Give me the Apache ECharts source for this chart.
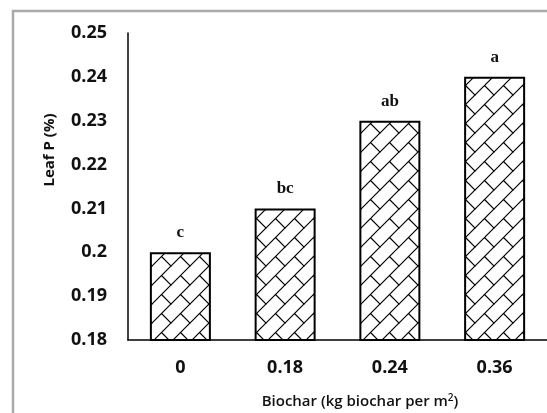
<!DOCTYPE html>
<html><head><meta charset="utf-8">
<script src="https://cdn.jsdelivr.net/npm/echarts@6/dist/echarts.min.js"></script>
<style>html,body{margin:0;padding:0;background:#fff}#c{width:547px;height:413px}</style>
</head><body><div id="c"></div>
<script>
var categories = ['0', '0.18', '0.24', '0.36'];
var leafP = [0.20, 0.21, 0.23, 0.24];
var letters = ['c', 'bc', 'ab', 'a'];
var yTicks = [0.18, 0.19, 0.2, 0.21, 0.22, 0.23, 0.24, 0.25];

function makePattern() {
  var s = 19;
  var cv = document.createElement('canvas');
  cv.width = s; cv.height = s;
  var g = cv.getContext('2d');
  g.fillStyle = '#fff'; g.fillRect(0, 0, s, s);
  g.strokeStyle = '#000'; g.lineWidth = 1.2;
  g.beginPath();
  g.moveTo(-2, s + 2); g.lineTo(s + 2, -2);
  g.moveTo(s / 2, s / 2); g.lineTo(s + 1, s + 1);
  g.moveTo(-1, -1); g.lineTo(0.5, 0.5);
  g.stroke();
  return cv;
}

var chart = echarts.init(document.getElementById('c'), null, {renderer: 'canvas'});
var pat = {image: makePattern(), repeat: 'repeat'};
chart.setOption({
  backgroundColor: '#fff',
  animation: false,
  grid: {left: 128, right: -2, top: 33, bottom: 73},
  xAxis: {
    type: 'category', data: categories,
    axisLine: {lineStyle: {color: '#000', width: 1.5}},
    axisTick: {show: false},
    axisLabel: {margin: 19, fontFamily: 'Open Sans', fontWeight: 'bold', fontSize: 18, color: '#111'}
  },
  yAxis: {
    type: 'value', min: 0.18, max: 0.25, interval: 0.01,
    axisLine: {show: true, lineStyle: {color: '#000', width: 1.5}},
    axisTick: {show: false},
    splitLine: {show: false},
    axisLabel: {margin: 21, fontFamily: 'Open Sans', fontWeight: 'bold', fontSize: 18, color: '#111',
      formatter: function (v) {
        var t = yTicks.reduce(function (a, b) { return Math.abs(b - v) < Math.abs(a - v) ? b : a; });
        return String(t);
      }}
  },
  series: [{
    type: 'bar', data: leafP, barWidth: 61,
    itemStyle: {color: pat, borderColor: '#000', borderWidth: 2},
    label: {show: true, position: 'top', distance: 11,
      formatter: function (p) { return letters[p.dataIndex]; },
      fontFamily: 'Liberation Serif', fontWeight: 'bold', fontSize: 17, color: '#111'}
  }],
  graphic: [
    {type: 'rect', shape: {x: 13, y: 11, width: 600, height: 500},
      style: {fill: null, stroke: '#ababab', lineWidth: 2.5}, silent: true},
    {type: 'text', x: 50, y: 150, rotation: Math.PI / 2,
      style: {text: 'Leaf P (%)', fontFamily: 'Open Sans', fontWeight: 'bold', fontSize: 15, fill: '#111',
        textAlign: 'center', textVerticalAlign: 'middle'}},
    {type: 'text', x: 360, y: 402,
      style: {text: '{a|Biochar (kg biochar per m}{s|2}{a|)}', textAlign: 'center', textVerticalAlign: 'middle',
        rich: {a: {fontFamily: 'Open Sans', fontSize: 15, fontWeight: 600, fill: '#111'},
               s: {fontFamily: 'Open Sans', fontSize: 10, fontWeight: 600, fill: '#111', verticalAlign: 'top', padding: [0,0,8,0]}}}}
  ]
});
</script></body></html>
